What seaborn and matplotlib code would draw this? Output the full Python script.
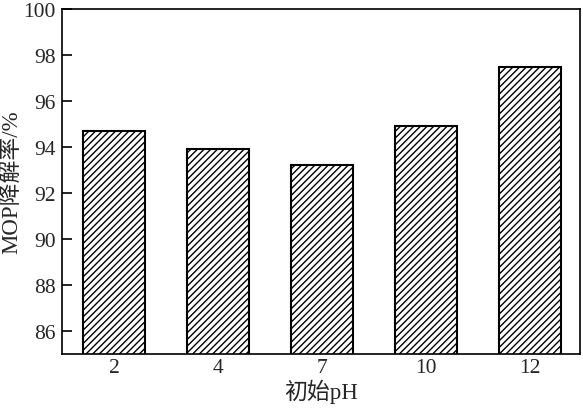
import matplotlib
matplotlib.use("Agg")
import matplotlib.pyplot as plt
import seaborn as sns
import pandas as pd

categories = ["2", "4", "7", "10", "12"]
values = [94.7, 93.9, 93.2, 94.9, 97.5]
yticks = [86, 88, 90, 92, 94, 96, 98, 100]

sns.set_style("ticks")
plt.rcParams['font.family'] = ['Liberation Serif', 'Noto Sans CJK SC', 'DejaVu Sans']
plt.rcParams['hatch.linewidth'] = 1.0
plt.rcParams['xtick.direction'] = 'in'
plt.rcParams['ytick.direction'] = 'in'

df = pd.DataFrame({"pH": categories, "rate": values})

fig = plt.figure(figsize=(5.83, 4.10), dpi=100)
ax = fig.add_axes([62/583, 55/410, 518/583, 345/410])
sns.barplot(data=df, x="pH", y="rate", ax=ax, color="white", width=0.6,
            edgecolor="black", linewidth=1.5, hatch="/////", errorbar=None)
for p in ax.patches:
    p.set_hatch("/////")
    p.set_edgecolor("black")
ax.set_ylim(85, 100)
ax.set_xlim(-0.5, 4.48)
ax.set_yticks(yticks)
ax.tick_params(axis='both', labelsize=15.5, length=7, width=1.2, color='black')
ax.tick_params(axis='y', pad=4.5)
ax.tick_params(axis='x', pad=3)
for s in ax.spines.values():
    s.set_linewidth(1.2)
    s.set_color('black')
ax.set_xlabel("初始pH", fontsize=16.5, labelpad=1)
ax.set_ylabel("MOP降解率/%", fontsize=16.5, labelpad=1)
fig.savefig("out.png", dpi=100)
